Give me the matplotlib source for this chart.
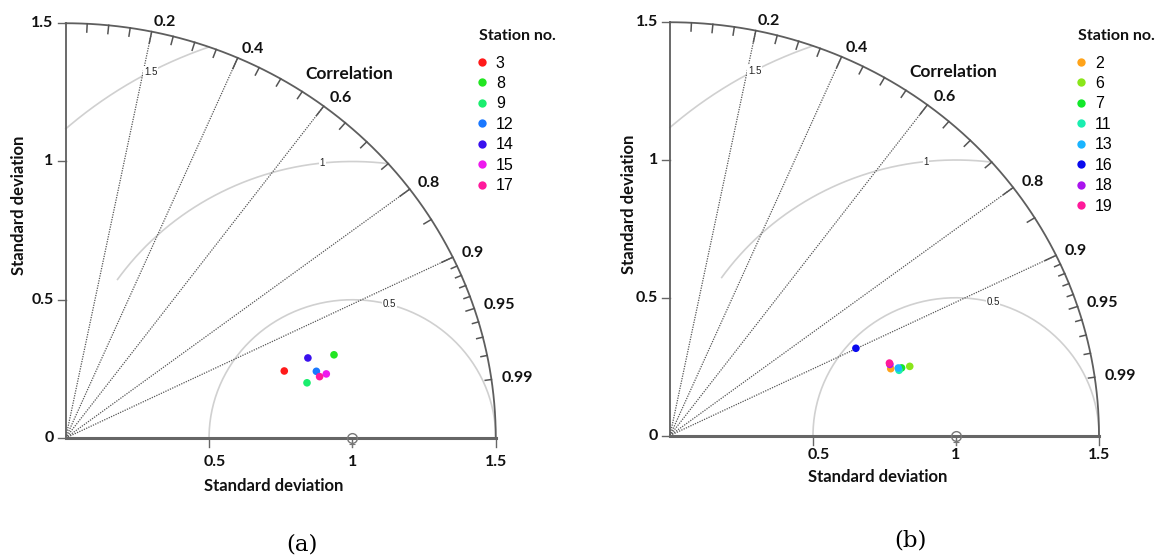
import numpy as np
import matplotlib.pyplot as plt
from matplotlib.lines import Line2D

W, H = 1161, 560

# panel (a): standard deviation and correlation per station
stations_a = ['3', '8', '9', '12', '14', '15', '17']
sd_a = [0.800, 0.983, 0.865, 0.907, 0.893, 0.938, 0.913]
corr_a = [0.953, 0.952, 0.973, 0.964, 0.946, 0.969, 0.970]
colors_a = ['#ff1a1a', '#22e622', '#1aee6e', '#1a78ff', '#3a10ee', '#ee1aee', '#ff1a9c']

# panel (b)
stations_b = ['2', '6', '7', '11', '13', '16', '18', '19']
sd_b = [0.809, 0.875, 0.846, 0.835, 0.835, 0.723, 0.811, 0.811]
corr_b = [0.954, 0.958, 0.957, 0.959, 0.956, 0.899, 0.948, 0.946]
colors_b = ['#ffa31a', '#8ae61a', '#12e82a', '#1aeeb0', '#1ab4ff', '#0a0aee', '#aa14ee', '#ff1a9a']

corr_labels = [0.2, 0.4, 0.6, 0.8, 0.9, 0.95, 0.99]
corr_rays = [0.2, 0.4, 0.6, 0.8, 0.9]
rms_levels = [0.5, 1.0, 1.5]
sd_ticks = [0, 0.5, 1, 1.5]

BOLD = dict(family='Lato', weight='bold', color='#111111')
SDMAX = 1.5


def make_axes(fig, ox, oy, sx, sy, xlim=(-0.2, 1.95), ylim=(-0.42, 1.62)):
    # place axes so that data (0,0) lands on pixel (ox, oy)
    left = (ox + xlim[0] * sx) / W
    width = (xlim[1] - xlim[0]) * sx / W
    bottom = (H - oy + ylim[0] * sy) / H
    height = (ylim[1] - ylim[0]) * sy / H
    ax = fig.add_axes([left, bottom, width, height])
    ax.set_xlim(xlim)
    ax.set_ylim(ylim)
    ax.axis('off')
    ax.patch.set_visible(False)
    return ax


def taylor(ax, sx, sy, sd, corr, stations, colors, xlab_y, ylab_x, tick_y, leg_x, leg_y):
    px = 1.0 / sx
    py = 1.0 / sy
    # rms circles round the reference point
    spans = {0.5: (0, 180), 1.0: (82.8, 145), 1.5: (109.5, 131.8)}
    lab_ang = {0.5: 75, 1.0: 96, 1.5: 118}
    for g in rms_levels:
        t = np.radians(np.linspace(spans[g][0], spans[g][1], 200))
        ax.plot(1 + g * np.cos(t), g * np.sin(t), color='#d0d0d0', lw=1.2, clip_on=False, zorder=1)
        a = np.radians(lab_ang[g])
        ax.text(1 + g * np.cos(a), g * np.sin(a), '%g' % g, family='Liberation Sans', fontsize=7,
                ha='center', va='center', color='#222222', zorder=2,
                bbox=dict(facecolor='white', edgecolor='none', pad=0.5))

    # correlation rays
    for c in corr_rays:
        a = np.arccos(c)
        ax.plot([0, SDMAX * np.cos(a)], [0, SDMAX * np.sin(a)], color='#555555', lw=0.9,
                ls=(0, (1, 1)), clip_on=False, zorder=1)

    # outer arc and axes
    t = np.linspace(0, np.pi / 2, 300)
    ax.plot(SDMAX * np.cos(t), SDMAX * np.sin(t), color='#5e5e5e', lw=1.3, clip_on=False, zorder=3)
    ax.plot([0, 0], [0, SDMAX], color='#5e5e5e', lw=1.3, clip_on=False, zorder=3)
    ax.plot([0, SDMAX], [0, 0], color='#666666', lw=2.2, clip_on=False, zorder=3)

    # ticks on the correlation arc
    fine = [0.91, 0.92, 0.93, 0.94, 0.96, 0.97, 0.98, 0.99]
    minor = [round(v, 2) for v in np.arange(0.05, 0.9, 0.05)]
    for c in sorted(set(minor + fine + corr_labels)):
        if c in corr_labels[:5]:
            L = 0.042
        elif c in fine:
            L = 0.022
        else:
            L = 0.03
        a = np.arccos(c)
        ax.plot([SDMAX * np.cos(a), (SDMAX - L) * np.cos(a)],
                [SDMAX * np.sin(a), (SDMAX - L) * np.sin(a)],
                color='#555555', lw=1.1, clip_on=False, zorder=3)
    for c in corr_labels:
        a = np.arccos(c)
        ax.text(1.535 * np.cos(a), 1.535 * np.sin(a), '%g' % c, fontsize=11.5,
                ha='left', va='center', **BOLD)
    ax.text(0.99, 1.318, 'Correlation', fontsize=12.5, ha='center', va='center', **BOLD)

    # sd ticks
    for v in sd_ticks:
        ax.plot([-8 * px, 0], [v, v], color='#666666', lw=1, clip_on=False)
        ax.text(-12 * px, v, '%g' % v, fontsize=11.5, ha='right', va='center', **BOLD)
        if v > 0:
            ax.plot([v, v], [0, -9 * py], color='#666666', lw=1, clip_on=False)
            xo = 0.02 if v == 0.5 else 0
            ax.text(v + xo, tick_y, '%g' % v, fontsize=11.5, ha='center', va='center', **BOLD)
    ax.text(0.725, xlab_y, 'Standard deviation', fontsize=12, ha='center', va='center', **BOLD)
    ax.text(ylab_x, 0.84, 'Standard deviation', fontsize=12, ha='center', va='center',
            rotation=90, **BOLD)

    # reference point
    ax.plot([1], [0], marker='o', ms=7, mfc='none', mec='#777777', mew=1, clip_on=False, zorder=4)
    ax.plot([1], [-6 * py], marker='+', ms=4, mec='#777777', mew=0.8, clip_on=False, zorder=4)

    # station points
    sd = np.array(sd)
    corr = np.array(corr)
    xs = sd * corr
    ys = sd * np.sin(np.arccos(corr))
    handles = []
    for x, y, col, lab in zip(xs, ys, colors, stations):
        ax.scatter([x], [y], s=30, color=col, edgecolors='none', zorder=5, clip_on=False)
        handles.append(Line2D([], [], ls='none', marker='o', ms=6, mfc=col, mec='none', label=lab))
    ax.text(leg_x, leg_y + 0.07, 'Station no.', fontsize=11.5, ha='left', va='center', **BOLD)
    ax.legend(handles=handles, loc='upper left',
              bbox_to_anchor=(leg_x, leg_y), bbox_transform=ax.transData,
              frameon=False, borderpad=0, borderaxespad=0, handlelength=0.3,
              handletextpad=0.75, labelspacing=0.34,
              prop=dict(family='Liberation Sans', size=11.5))
    return ax


fig = plt.figure(figsize=(W / 100, H / 100), dpi=100)

axa = make_axes(fig, 65.7, 438, 286.7, 276.5)
taylor(axa, 286.7, 276.5, sd_a, corr_a, stations_a, colors_a, -0.174, -0.163, -0.087, 1.442, 1.383)

axb = make_axes(fig, 670, 435.5, 286, 275.5)
taylor(axb, 286, 275.5, sd_b, corr_b, stations_b, colors_b, -0.151, -0.143, -0.072, 1.427, 1.379)

fig.text(302 / W, 1 - 545 / H, '(a)', family='DejaVu Serif', fontsize=16.5, ha='center', va='center')
fig.text(910 / W, 1 - 540 / H, '(b)', family='DejaVu Serif', fontsize=16.5, ha='center', va='center')

fig.savefig('out.png', dpi=100)
